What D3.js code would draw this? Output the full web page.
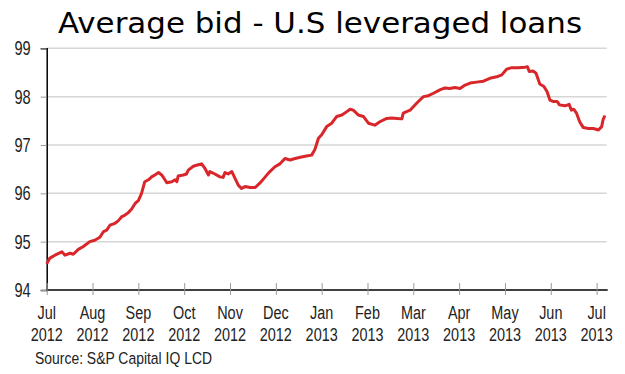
<!DOCTYPE html>
<html>
<head>
<meta charset="utf-8">
<script src="https://cdn.jsdelivr.net/npm/d3@7"></script>
<style>
  body { margin: 0; background: #fff; }
</style>
</head>
<body>
<div id="canvas"></div>
<script>
// chart size
const width = 625;
const height = 374;
const labelFont = "'Liberation Sans Narrow', 'Arial Narrow', 'Liberation Sans', Arial, sans-serif";
const squeeze = 0.76; // no narrow font installed, so labels get squeezed sideways

// data, months counted from Jul 2012 (0 = start of Jul 2012)
const months = [0.00, 0.07, 0.18, 0.33, 0.40, 0.51, 0.58, 0.69, 0.80, 0.94,
  1.05, 1.16, 1.24, 1.31, 1.38, 1.49, 1.56, 1.64, 1.71, 1.78, 1.85, 1.93,
  2.00, 2.07, 2.14, 2.22, 2.29, 2.36, 2.44, 2.51, 2.58, 2.62, 2.73, 2.80, 2.84, 2.87, 2.98,
  3.05, 3.09, 3.20, 3.31, 3.38, 3.45, 3.53, 3.56, 3.67, 3.78, 3.85, 3.89, 3.96,
  4.04, 4.11, 4.18, 4.25, 4.33, 4.44, 4.55, 4.65, 4.76, 4.87, 4.98,
  5.09, 5.20, 5.31, 5.42, 5.56, 5.67, 5.78, 5.85, 5.93,
  6.00, 6.11, 6.22, 6.33, 6.44, 6.55, 6.62, 6.69, 6.80, 6.91,
  7.02, 7.16, 7.27, 7.42, 7.53, 7.64, 7.75, 7.78, 7.93,
  8.00, 8.11, 8.22, 8.33, 8.44, 8.58, 8.69, 8.80, 8.91,
  9.02, 9.13, 9.24, 9.38, 9.53, 9.67, 9.82, 9.93,
  10.04, 10.15, 10.29, 10.44, 10.49, 10.53, 10.62, 10.68, 10.76, 10.85, 10.92, 10.98,
  11.05, 11.14, 11.19, 11.31, 11.40, 11.45, 11.50, 11.56, 11.63, 11.71, 11.82, 11.93,
  12.04, 12.11, 12.14, 12.18];
const bids = [94.54, 94.66, 94.72, 94.79, 94.72, 94.76, 94.74, 94.84, 94.90, 95.00,
  95.03, 95.09, 95.21, 95.24, 95.34, 95.38, 95.43, 95.52, 95.55, 95.60, 95.67, 95.79,
  95.85, 96.00, 96.24, 96.28, 96.34, 96.38, 96.43, 96.38, 96.28, 96.22, 96.24, 96.28, 96.24, 96.36, 96.38,
  96.40, 96.48, 96.56, 96.59, 96.61, 96.52, 96.38, 96.45, 96.40, 96.34, 96.33, 96.43, 96.40,
  96.45, 96.31, 96.17, 96.10, 96.14, 96.12, 96.12, 96.21, 96.33, 96.45, 96.55,
  96.61, 96.72, 96.69, 96.72, 96.75, 96.77, 96.79, 96.90, 97.14,
  97.21, 97.38, 97.45, 97.59, 97.62, 97.69, 97.74, 97.72, 97.62, 97.59,
  97.45, 97.41, 97.48, 97.55, 97.56, 97.55, 97.54, 97.66, 97.72,
  97.79, 97.90, 98.00, 98.02, 98.07, 98.14, 98.18, 98.17, 98.19,
  98.17, 98.24, 98.28, 98.30, 98.32, 98.38, 98.41, 98.45,
  98.57, 98.60, 98.60, 98.61, 98.62, 98.52, 98.53, 98.48, 98.26, 98.21, 98.10, 97.93,
  97.90, 97.90, 97.83, 97.81, 97.84, 97.72, 97.74, 97.66, 97.48, 97.36, 97.34, 97.34,
  97.31, 97.38, 97.52, 97.61];

// tick labels
const monthLabels = ["Jul", "Aug", "Sep", "Oct", "Nov", "Dec", "Jan", "Feb", "Mar", "Apr", "May", "Jun", "Jul"];
const yearLabels = ["2012", "2012", "2012", "2012", "2012", "2012", "2013", "2013", "2013", "2013", "2013", "2013", "2013"];
const yTicks = [94, 95, 96, 97, 98, 99];

const svg = d3.select("#canvas")
    .append("svg")
    .attr("width", width)
    .attr("height", height);

svg.append("rect").attr("width", width).attr("height", height).attr("fill", "#fff");

const x = d3.scaleLinear().domain([0, 12.22]).range([46.7, 606.7]);
const y = d3.scaleLinear().domain([94, 99]).range([290, 48.3]);

// grid lines
svg.append("g")
    .selectAll("line")
    .data(yTicks.slice(1))
    .join("line")
    .attr("x1", x(0))
    .attr("x2", x(12.22))
    .attr("y1", d => y(d))
    .attr("y2", d => y(d))
    .attr("stroke", "#d6d6d6")
    .attr("stroke-width", 1.5);

// y axis
const yAxis = svg.append("g")
    .attr("transform", `translate(${x(0)},0)`)
    .call(d3.axisLeft(y).tickValues(yTicks).tickSize(6).tickFormat(d3.format("d")));
yAxis.select(".domain").attr("stroke", "#000").attr("stroke-width", 1.5);
yAxis.selectAll(".tick line").attr("stroke", "#999");
yAxis.selectAll(".tick text")
    .attr("x", 0)
    .attr("transform", `translate(-16,0) scale(0.73,1)`)
    .attr("font-family", labelFont)
    .attr("font-size", 20)
    .attr("fill", "#222");

// x axis
const xAxis = svg.append("g")
    .attr("transform", `translate(0,${y(94)})`)
    .call(d3.axisBottom(x).tickValues(d3.range(monthLabels.length)).tickFormat(""));
xAxis.select(".domain").attr("d", `M${x(0)},0H${x(12.22) + 1}`).attr("stroke", "#000").attr("stroke-width", 1.5);
xAxis.selectAll(".tick line").attr("y1", -7).attr("y2", 5).attr("stroke", "#999");

// month on one row, year on the row under it
const xLabels = svg.append("g")
    .attr("font-family", labelFont)
    .attr("font-size", 19)
    .attr("fill", "#222")
    .attr("text-anchor", "middle");
monthLabels.forEach(function(m, i) {
    xLabels.append("text")
        .attr("transform", `translate(${x(i)},319) scale(${squeeze},1)`)
        .text(m);
    xLabels.append("text")
        .attr("transform", `translate(${x(i)},341) scale(${squeeze},1)`)
        .text(yearLabels[i]);
});

// the series
const line = d3.line()
    .x((d, i) => x(months[i]))
    .y(d => y(d));
svg.append("path")
    .datum(bids)
    .attr("d", line)
    .attr("fill", "none")
    .attr("stroke", "#d9262b")
    .attr("stroke-width", 3)
    .attr("stroke-linejoin", "round");

// title and source
svg.append("text")
    .attr("x", 58)
    .attr("y", 33)
    .attr("font-family", "'DejaVu Sans', Verdana, sans-serif")
    .attr("font-size", 29)
    .attr("textLength", 524)
    .attr("lengthAdjust", "spacingAndGlyphs")
    .attr("fill", "#000")
    .text("Average bid - U.S leveraged loans");

svg.append("text")
    .attr("transform", "translate(35,364) scale(0.82,1)")
    .attr("font-family", labelFont)
    .attr("font-size", 17)
    .attr("fill", "#222")
    .text("Source: S&P Capital IQ LCD");
</script>
</body>
</html>
